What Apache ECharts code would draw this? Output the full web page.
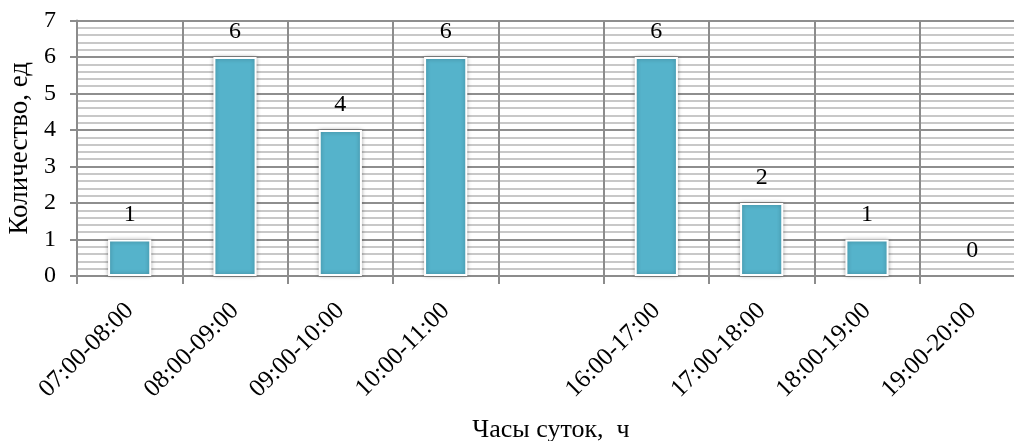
<!DOCTYPE html>
<html>
<head>
<meta charset="utf-8">
<script src="https://cdn.jsdelivr.net/npm/echarts@6/dist/echarts.min.js"></script>
<style>
html,body{margin:0;padding:0;background:#fff;}
#chart{width:1014px;height:441px;}
</style>
</head>
<body>
<div id="chart"></div>
<script>
const categories = ['07:00-08:00','08:00-09:00','09:00-10:00','10:00-11:00','','16:00-17:00','17:00-18:00','18:00-19:00','19:00-20:00'];
const counts = [1, 6, 4, 6, '-', 6, 2, 1, 0];
const yTicks = { min: 0, max: 7, interval: 1 };
const xTitle = 'Часы суток,  ч';
const yTitle = 'Количество, ед';

const FONT = '"Liberation Serif", "Times New Roman", serif';
const barData = counts.map(v => v === 0
  ? { value: 0, itemStyle: { color: 'rgba(0,0,0,0)', borderColor: 'rgba(0,0,0,0)', borderWidth: 0, shadowBlur: 0, shadowColor: 'rgba(0,0,0,0)' } }
  : v);
const chart = echarts.init(document.getElementById('chart'), null, {renderer: 'canvas'});
chart.setOption({
  animation: false,
  grid: { left: 77, right: -11, top: 20.5, bottom: 165, containLabel: false, outerBoundsMode: 'none' },
  xAxis: {
    type: 'category',
    data: categories,
    boundaryGap: true,
    name: xTitle,
    nameLocation: 'middle',
    nameGap: 141,
    nameTextStyle: { fontFamily: FONT, fontSize: 26, color: '#000' },
    axisLine: { show: true, lineStyle: { color: '#8c8c8c', width: 2 } },
    axisTick: { show: true, interval: 0, length: 8, lineStyle: { color: '#8c8c8c', width: 2 } },
    axisLabel: { interval: 0, rotate: 45, margin: 31, fontFamily: FONT, fontSize: 25, color: '#000' },
    splitLine: { show: true, interval: 0, lineStyle: { color: '#8c8c8c', width: 2 } }
  },
  yAxis: {
    type: 'value',
    min: yTicks.min, max: yTicks.max, interval: yTicks.interval,
    name: yTitle,
    nameLocation: 'middle',
    nameRotate: 90,
    nameGap: 44,
    nameTextStyle: { fontFamily: FONT, fontSize: 27, color: '#000' },
    axisLine: { show: true, lineStyle: { color: '#8c8c8c', width: 2 } },
    axisTick: { show: true, length: 7, lineStyle: { color: '#8c8c8c', width: 2 } },
    axisLabel: { margin: 21, fontFamily: FONT, fontSize: 24, color: '#000' },
    splitLine: { show: true, lineStyle: { color: '#8e8e8e', width: 2 } },
    minorTick: { show: false, splitNumber: 5 },
    minorSplitLine: { show: true, lineStyle: { color: '#c8c8c8', width: 2 } }
  },
  series: [{
    type: 'bar',
    data: barData,
    barWidth: '41%',
    itemStyle: {
      color: '#55b3cb',
      borderColor: '#ffffff',
      borderWidth: 2,
      shadowBlur: 4,
      shadowColor: 'rgba(0,0,0,0.3)'
    },
    label: {
      show: true,
      position: 'top',
      distance: 13,
      fontFamily: FONT,
      fontSize: 24,
      color: '#000'
    }
  }]
});
</script>
</body>
</html>
